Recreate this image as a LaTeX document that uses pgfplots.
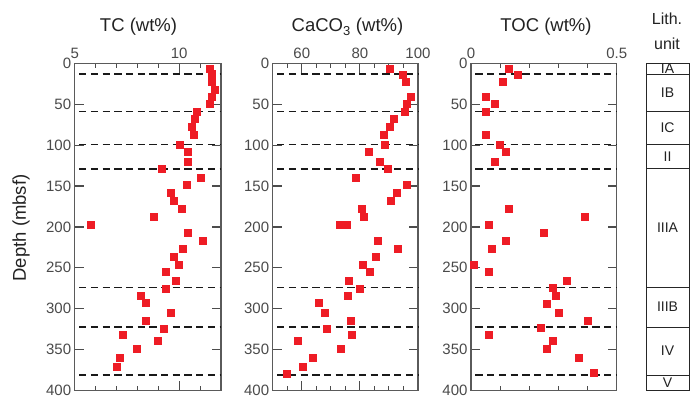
\documentclass[border=0pt]{standalone}
\usepackage{fontspec}
\setmainfont{Liberation Sans}
\usepackage{pgfplots}
\usepackage{pgfplotstable}
\pgfplotsset{compat=1.18}
\definecolor{ptred}{HTML}{EE1C25}
\definecolor{axgray}{HTML}{5A5A5A}
\definecolor{lblgray}{HTML}{4A4A4A}
\definecolor{ttl}{HTML}{222222}

\pgfplotstableread{
d v
6.1 11.45
12.6 11.55
22.9 11.55
32.6 11.69
41.2 11.55
49.8 11.45
58.8 10.83
68.2 10.74
78.0 10.61
87.7 10.69
99.2 10.05
108.6 10.42
120.8 10.42
129.4 9.16
140.4 11.05
149.0 10.37
158.8 9.59
168.6 9.77
178.4 10.12
188.2 8.78
198.0 5.76
207.8 10.42
217.6 11.15
227.3 10.16
237.0 9.74
247.0 10.00
255.5 9.39
266.5 9.83
275.5 9.35
284.9 8.15
293.5 8.43
305.7 9.59
315.5 8.43
324.5 9.26
332.6 7.29
340.0 9.00
349.8 8.00
360.8 7.16
371.8 7.02
}\tctable

\pgfplotstableread{
d v
6.1 90.35
13.5 94.7
22.9 95.9
41.2 97.5
49.8 96.2
58.8 95.5
68.2 91.7
78.0 90.35
87.7 88.3
99.2 88.6
108.6 83.1
120.8 86.9
129.4 89.7
140.4 78.7
149.0 96.2
158.8 92.8
168.6 90.7
178.4 80.7
188.2 81.4
198.0 73.2
198.0 75.6
217.6 86.2
227.3 93.1
237.0 85.5
247.0 81.2
255.5 83.5
266.5 76.1
275.5 80.0
284.9 76.0
293.5 65.9
305.7 68.0
315.5 76.9
324.5 68.6
332.6 77.3
340.0 58.7
349.8 73.5
360.8 63.8
371.8 60.3
379.6 54.9
}\catable

\pgfplotstableread{
d v
6.1 0.131
13.5 0.162
22.9 0.110
41.2 0.052
49.8 0.082
58.8 0.052
87.7 0.052
99.2 0.100
108.6 0.120
120.8 0.082
178.4 0.131
188.2 0.392
198.0 0.062
207.8 0.251
217.6 0.120
227.3 0.072
247.0 0.010
255.5 0.062
266.5 0.330
275.0 0.282
284.9 0.292
293.9 0.261
305.7 0.302
315.5 0.402
324.0 0.241
332.6 0.062
340.0 0.282
349.8 0.261
360.8 0.371
379.2 0.423
}\toctable

\pgfplotsset{
  panel/.style={
    scale only axis, height=326.6pt,
    ymin=-400, ymax=0, ytick={-400,-350,...,0},
    yticklabels={400,350,300,250,200,150,100,50,0},
    axis line style={axgray, line width=1.2pt},
    major tick style={draw=black!70, line width=1.2pt},
    minor tick style={draw=black!70, line width=1.1pt},
    tick align=inside,
    xticklabel pos=right,
    major tick length=9pt, minor tick length=4.5pt,
    ticklabel style={font=\fontsize{15}{15}\selectfont, text=lblgray},
    xticklabel style={yshift=1.5pt},
    /pgf/number format/assume math mode=true,
    clip=false,
  },
  pts/.style={only marks, mark=square*, mark size=3.5pt, mark options={fill=ptred, draw=ptred, line width=0pt}},
  bnd/.style={black!90, line width=1.5pt, dash pattern=on 7.3pt off 4.4pt, dash phase=7.3pt, forget plot},
}

\begin{document}
\begin{tikzpicture}
\useasboundingbox (0,0) rectangle (690pt,397pt);

% TC
\begin{axis}[panel, at={(74.7pt,6.8pt)}, anchor=south west, width=146.3pt,
  xmin=5, xmax=12, xtick={5,10}, minor xtick={6,7,8,9,11}]
  \addplot[bnd] coordinates {(5,-13) (12,-13)};
  \addplot[bnd] coordinates {(5,-58.8) (12,-58.8)};
  \addplot[bnd] coordinates {(5,-99.2) (12,-99.2)};
  \addplot[bnd] coordinates {(5,-128.8) (12,-128.8)};
  \addplot[bnd] coordinates {(5,-274) (12,-274)};
  \addplot[bnd] coordinates {(5,-322.5) (12,-322.5)};
  \addplot[bnd] coordinates {(5,-381.5) (12,-381.5)};
  \addplot[pts] table[x=v, y expr=-\thisrow{d}] {\tctable};
\end{axis}

% CaCO3
\begin{axis}[panel, at={(272.7pt,6.8pt)}, anchor=south west, width=145.3pt,
  xmin=50, xmax=100, xtick={60,80,100}, minor xtick={55,65,70,75,85,90,95}]
  \addplot[bnd] coordinates {(50,-13) (100,-13)};
  \addplot[bnd] coordinates {(50,-58.8) (100,-58.8)};
  \addplot[bnd] coordinates {(50,-99.2) (100,-99.2)};
  \addplot[bnd] coordinates {(50,-128.8) (100,-128.8)};
  \addplot[bnd] coordinates {(50,-274) (100,-274)};
  \addplot[bnd] coordinates {(50,-322.5) (100,-322.5)};
  \addplot[bnd] coordinates {(50,-381.5) (100,-381.5)};
  \addplot[pts] table[x=v, y expr=-\thisrow{d}] {\catable};
\end{axis}

% TOC
\begin{axis}[panel, at={(471pt,6.8pt)}, anchor=south west, width=145.7pt,
  xmin=0, xmax=0.5, xtick={0,0.5}, minor xtick={0.1,0.2,0.3,0.4},
  xticklabel style={/pgf/number format/fixed}]
  \addplot[bnd] coordinates {(0,-13) (0.5,-13)};
  \addplot[bnd] coordinates {(0,-58.8) (0.5,-58.8)};
  \addplot[bnd] coordinates {(0,-99.2) (0.5,-99.2)};
  \addplot[bnd] coordinates {(0,-128.8) (0.5,-128.8)};
  \addplot[bnd] coordinates {(0,-274) (0.5,-274)};
  \addplot[bnd] coordinates {(0,-322.5) (0.5,-322.5)};
  \addplot[bnd] coordinates {(0,-381.5) (0.5,-381.5)};
  \addplot[pts] table[x=v, y expr=-\thisrow{d}] {\toctable};
\end{axis}

% Lithology
\begin{axis}[scale only axis, at={(646pt,6.8pt)}, anchor=south west, width=43pt, height=326.6pt,
  ymin=-400, ymax=0, xmin=0, xmax=1, xtick=\empty, ytick=\empty,
  axis line style={black!85, line width=0.8pt}, clip=false]
  \addplot[black!85, line width=0.8pt] coordinates {(0,-13) (1,-13)};
  \addplot[black!85, line width=0.8pt] coordinates {(0,-58.8) (1,-58.8)};
  \addplot[black!85, line width=0.8pt] coordinates {(0,-99.2) (1,-99.2)};
  \addplot[black!85, line width=0.8pt] coordinates {(0,-128.8) (1,-128.8)};
  \addplot[black!85, line width=0.8pt] coordinates {(0,-274) (1,-274)};
  \addplot[black!85, line width=0.8pt] coordinates {(0,-322.5) (1,-322.5)};
  \addplot[black!85, line width=0.8pt] coordinates {(0,-381.5) (1,-381.5)};
  \node[font=\fontsize{14}{14}\selectfont, text=ttl] at (axis cs:0.5,-6.5) {IA};
  \node[font=\fontsize{14}{14}\selectfont, text=ttl] at (axis cs:0.5,-36) {IB};
  \node[font=\fontsize{14}{14}\selectfont, text=ttl] at (axis cs:0.5,-79) {IC};
  \node[font=\fontsize{14}{14}\selectfont, text=ttl] at (axis cs:0.5,-114) {II};
  \node[font=\fontsize{14}{14}\selectfont, text=ttl] at (axis cs:0.5,-201) {IIIA};
  \node[font=\fontsize{14}{14}\selectfont, text=ttl] at (axis cs:0.5,-298) {IIIB};
  \node[font=\fontsize{14}{14}\selectfont, text=ttl] at (axis cs:0.5,-352) {IV};
  \node[font=\fontsize{14}{14}\selectfont, text=ttl] at (axis cs:0.5,-391) {V};
\end{axis}

% titles
\node[anchor=base, font=\fontsize{18.5}{18.5}\selectfont, text=ttl] at (138.5pt,365pt) {TC (wt\%)};
\node[anchor=base, font=\fontsize{18.5}{18.5}\selectfont, text=ttl] at (347.5pt,365pt) {CaCO\textsubscript{3} (wt\%)};
\node[anchor=base, font=\fontsize{18.5}{18.5}\selectfont, text=ttl] at (546pt,365pt) {TOC (wt\%)};
\node[anchor=base, font=\fontsize{16}{16}\selectfont, text=ttl] at (667pt,372pt) {Lith.};
\node[anchor=base, font=\fontsize{16}{16}\selectfont, text=ttl] at (667pt,347pt) {unit};
\node[rotate=90, font=\fontsize{18.5}{18.5}\selectfont, text=ttl] at (21pt,169pt) {Depth (mbsf)};
\end{tikzpicture}
\end{document}
